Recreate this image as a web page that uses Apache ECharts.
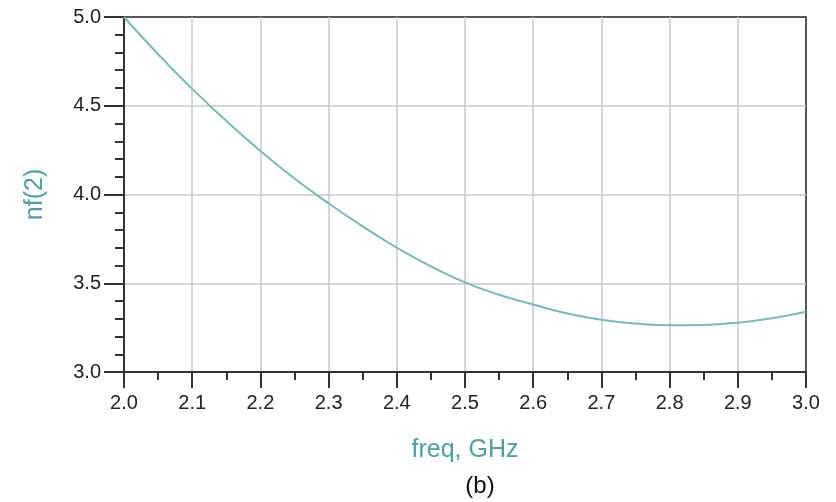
<!DOCTYPE html>
<html>
<head>
<meta charset="utf-8">
<script src="https://cdn.jsdelivr.net/npm/echarts@6/dist/echarts.min.js"></script>
<style>html,body{margin:0;padding:0;background:#fff;}#c{width:836px;height:502px;}</style>
</head>
<body>
<div id="c"></div>
<script>
const freq = [2.00, 2.05, 2.10, 2.15, 2.20, 2.25, 2.30, 2.35, 2.40, 2.45, 2.50, 2.55, 2.60, 2.65, 2.70, 2.75, 2.80, 2.85, 2.90, 2.95, 3.00];
const nf2  = [5.00, 4.79, 4.595, 4.415, 4.245, 4.09, 3.95, 3.82, 3.70, 3.595, 3.505, 3.435, 3.38, 3.33, 3.295, 3.273, 3.263, 3.265, 3.278, 3.303, 3.34];
const xTitle = 'freq, GHz';
const yTitle = 'nf(2)';
const caption = '(b)';

const chart = echarts.init(document.getElementById('c'));
const font = 'Liberation Sans, Arial, sans-serif';
chart.setOption({
  animation: false,
  grid: { left: 124, right: 30, top: 17, bottom: 130, show: true, borderColor: '#222', borderWidth: 1.5, backgroundColor: 'transparent' },
  xAxis: {
    type: 'value', min: 2, max: 3, interval: 0.1,
    name: xTitle, nameLocation: 'middle', nameGap: 66,
    nameTextStyle: { color: '#4e9fa3', fontSize: 25, fontFamily: font },
    axisLine: { lineStyle: { color: '#333', width: 2 } },
    axisTick: { show: true, inside: false, length: 16, lineStyle: { color: '#333', width: 2 } },
    minorTick: { show: true, splitNumber: 2, length: 8, lineStyle: { color: '#333', width: 2 } },
    axisLabel: { margin: 21, color: '#222', fontSize: 20, fontFamily: font, formatter: v => v.toFixed(1) },
    splitLine: { show: true, showMinLine: false, showMaxLine: false, lineStyle: { color: '#c8c8c8', width: 1.5 } }
  },
  yAxis: {
    type: 'value', min: 3, max: 5, interval: 0.5,
    name: yTitle, nameLocation: 'middle', nameGap: 76,
    nameTextStyle: { color: '#4e9fa3', fontSize: 25, fontFamily: font },
    axisLine: { show: true, lineStyle: { color: '#333', width: 2 } },
    axisTick: { show: true, inside: false, length: 20, lineStyle: { color: '#333', width: 2 } },
    minorTick: { show: true, splitNumber: 5, length: 9, lineStyle: { color: '#333', width: 2 } },
    axisLabel: { margin: 23, color: '#222', fontSize: 20, fontFamily: font, formatter: v => v.toFixed(1) },
    splitLine: { show: true, showMinLine: false, showMaxLine: false, lineStyle: { color: '#c8c8c8', width: 1.5 } }
  },
  graphic: [{
    type: 'text', x: 480, y: 474,
    style: { text: caption, fontSize: 24, fontFamily: font, fill: '#111', textAlign: 'center' }
  }],
  series: [{
    type: 'line', smooth: true, symbol: 'none',
    data: freq.map((f, i) => [f, nf2[i]]),
    lineStyle: { color: '#78b9bc', width: 2 }
  }]
});
</script>
</body>
</html>
